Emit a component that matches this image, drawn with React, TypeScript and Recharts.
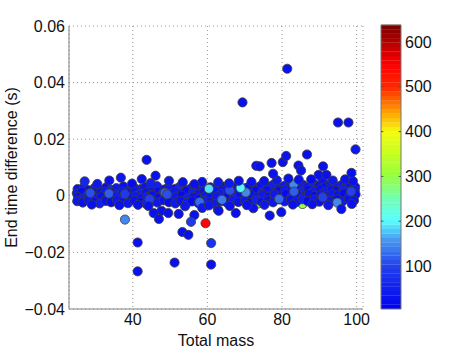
import React from "react"
import {
  ScatterChart,
  Scatter,
  XAxis,
  YAxis,
  CartesianGrid,
  ComposedChart,
  ReferenceArea,
  ReferenceLine,
} from "recharts"

const FONT = '"Liberation Sans", Arial, Helvetica, sans-serif'

const massTicks = [40, 60, 80, 100]
const diffTicks = [-0.04, -0.02, 0, 0.02, 0.04, 0.06]
const colorTicks = [100, 200, 300, 400, 500, 600]
const colorRange = [4, 638]

// [total mass, end time difference, colour value]
type Pt = [number, number, number]

// coloured points mostly buried inside the band
const buriedPoints: Pt[] = [
  [61.8, -0.0014, 470], [93.4, 0.002, 560], [32.0, -0.0017, 190], [49.0, 0.0024, 190],
  [55.2, 0.0003, 260], [78.4, -0.0008, 240], [88.0, 0.0006, 330], [41.2, 0.0002, 170],
  [73.6, -0.0027, 300], [85.5, -0.0029, 300], [60.6, 0.0021, 200], [68.7, 0.0026, 210],
]

const bandTop: Pt[] = [
  [25.2, 0.0024, 25], [26.9, 0.0031, 40], [28.3, 0.0019, 20], [29.8, 0.0028, 45], [31.0, 0.0022, 30],
  [32.9, 0.003, 15], [34.1, 0.0021, 55], [35.6, 0.0027, 35], [37.5, 0.0033, 25], [39.1, 0.002, 50],
  [40.3, 0.0029, 20], [42.2, 0.0024, 35], [43.4, 0.0031, 30], [45.3, 0.0026, 15], [46.5, 0.0034, 45],
  [48.4, 0.0022, 25], [49.6, 0.003, 40], [51.5, 0.0025, 20], [52.7, 0.0033, 55], [54.6, 0.0021, 30],
  [55.8, 0.0028, 35], [57.7, 0.0032, 15], [58.9, 0.0024, 45], [60.8, 0.003, 25], [62.0, 0.0026, 40],
  [63.9, 0.0033, 20], [65.1, 0.0023, 30], [67.0, 0.0031, 45], [68.2, 0.0035, 25], [70.1, 0.0027, 35],
  [71.3, 0.0034, 20], [73.2, 0.0029, 40], [74.4, 0.0036, 30], [76.3, 0.0031, 15], [77.5, 0.0038, 45],
  [79.4, 0.0028, 25], [80.6, 0.0035, 35], [82.5, 0.004, 30], [83.7, 0.0032, 20], [85.6, 0.0039, 40],
  [86.8, 0.003, 25], [88.7, 0.0041, 45], [89.9, 0.0034, 30], [91.8, 0.0038, 20], [93.0, 0.0043, 35],
  [94.9, 0.0033, 25], [96.1, 0.0039, 40], [98.0, 0.0036, 30], [99.6, 0.0031, 20],
]

const bandUpperMid: Pt[] = [
  [25.0, 0.0009, 35], [26.4, 0.0014, 20], [28.0, 0.0006, 45], [29.5, 0.0012, 30], [31.3, 0.0008, 15],
  [32.6, 0.0015, 40], [34.4, 0.001, 25], [35.9, 0.0005, 50], [37.2, 0.0013, 35], [38.8, 0.0009, 20],
  [40.6, 0.0016, 30], [41.9, 0.0007, 45], [43.7, 0.0012, 25], [45.0, 0.0004, 40], [46.8, 0.0014, 20],
  [48.1, 0.001, 55], [49.9, 0.0006, 30], [51.2, 0.0013, 35], [53.0, 0.0008, 25], [54.3, 0.0016, 15],
  [56.1, 0.0011, 45], [57.4, 0.0005, 30], [59.2, 0.0014, 20], [60.5, 0.0009, 40], [62.3, 0.0015, 25],
  [63.6, 0.0007, 35], [65.4, 0.0012, 50], [66.7, 0.0017, 20], [68.5, 0.001, 30], [69.8, 0.0015, 40],
  [71.6, 0.0008, 25], [72.9, 0.0018, 15], [74.7, 0.0013, 45], [76.0, 0.002, 30], [77.8, 0.0011, 35],
  [79.1, 0.0017, 20], [80.9, 0.0022, 40], [82.2, 0.0014, 25], [84.0, 0.0019, 30], [85.3, 0.0012, 45],
  [87.1, 0.0021, 20], [88.4, 0.0016, 35], [90.2, 0.0023, 25], [91.5, 0.0013, 40], [93.3, 0.002, 30],
  [94.6, 0.0017, 15], [96.4, 0.0024, 45], [97.7, 0.0015, 25], [99.5, 0.002, 35],
]

const bandLowerMid: Pt[] = [
  [25.3, -0.0004, 30], [26.7, -0.001, 45], [28.4, 0.0, 20], [29.9, -0.0007, 35], [31.5, -0.0002, 25],
  [33.0, -0.0009, 40], [34.6, -0.0003, 15], [36.1, -0.0008, 30], [37.7, 0.0001, 45], [39.2, -0.0006, 20],
  [40.8, -0.0001, 35], [42.3, -0.0009, 25], [43.9, -0.0004, 50], [45.4, 0.0002, 30], [47.0, -0.0007, 20],
  [48.5, -0.0002, 40], [50.1, -0.001, 25], [51.6, -0.0003, 35], [53.2, 0.0001, 15], [54.7, -0.0008, 45],
  [56.3, -0.0004, 30], [57.8, -0.0011, 20], [59.4, 0.0, 40], [60.9, -0.0006, 25], [62.5, -0.0002, 35],
  [64.0, -0.0009, 30], [65.6, 0.0001, 20], [67.1, -0.0005, 45], [68.7, 0.0003, 25], [70.2, -0.0004, 40],
  [71.8, 0.0002, 30], [73.3, -0.0006, 15], [74.9, 0.0004, 35], [76.4, -0.0003, 25], [78.0, 0.0005, 40],
  [79.5, -0.0002, 30], [81.1, 0.0006, 20], [82.6, -0.0001, 45], [84.2, 0.0004, 25], [85.7, -0.0003, 35],
  [87.3, 0.0007, 30], [88.8, 0.0, 20], [90.4, 0.0005, 40], [91.9, -0.0002, 25], [93.5, 0.0006, 35],
  [95.0, 0.0001, 30], [96.6, 0.0008, 20], [98.1, -0.0001, 45], [99.7, 0.0005, 25],
]

const bandBottom: Pt[] = [
  [25.1, -0.0019, 40], [26.6, -0.0024, 25], [28.2, -0.0016, 35], [29.7, -0.0022, 20], [31.1, -0.0027, 45],
  [32.8, -0.0018, 30], [34.2, -0.0023, 15], [35.7, -0.0015, 40], [37.3, -0.0021, 25], [38.7, -0.0026, 35],
  [40.4, -0.0017, 30], [42.1, -0.0022, 20], [43.5, -0.0028, 45], [45.2, -0.0019, 25], [46.6, -0.0024, 40],
  [48.3, -0.0016, 30], [49.7, -0.0023, 15], [51.4, -0.0027, 35], [52.8, -0.0018, 25], [54.5, -0.0025, 40],
  [55.9, -0.002, 20], [57.6, -0.0026, 30], [59.0, -0.0017, 45], [60.7, -0.0023, 25], [62.1, -0.0028, 35],
  [63.8, -0.0019, 20], [65.2, -0.0024, 30], [66.9, -0.0016, 40], [68.3, -0.0022, 25], [70.0, -0.0018, 35],
  [71.4, -0.0025, 20], [73.1, -0.0014, 45], [74.5, -0.0021, 30], [76.2, -0.0016, 25], [77.6, -0.0023, 40],
  [79.3, -0.0013, 20], [80.7, -0.002, 35], [82.4, -0.0015, 30], [83.8, -0.0022, 25], [85.5, -0.0012, 45],
  [86.9, -0.0019, 20], [88.6, -0.0014, 35], [90.0, -0.0021, 30], [91.7, -0.0011, 25], [93.1, -0.0018, 40],
  [94.8, -0.0013, 20], [96.2, -0.002, 35], [97.9, -0.0012, 30], [99.3, -0.0017, 25],
]

// lighter points that show on top of the band
const bandLight: Pt[] = [
  [28.6, 0.001, 110], [33.6, 0.0008, 120], [48.6, 0.0011, 120], [49.2, 0.0005, 110], [57.9, -0.0022, 130],
  [63.9, -0.0014, 140], [70.3, 0.0012, 150], [68.9, 0.0028, 200], [83.1, 0.0041, 150], [83.2, 0.0015, 120],
  [79.2, -0.0011, 130], [94.8, -0.0024, 150], [98.5, 0.0015, 100], [37.9, 0.0006, 90], [44.5, -0.0012, 100],
  [66.0, 0.0019, 110], [90.9, -0.0005, 95], [60.4, 0.0025, 190],
]

const nearAbove: Pt[] = [
  [27.1, 0.0051, 60], [33.7, 0.0054, 25], [36.8, 0.0064, 35], [42.4, 0.0059, 30], [46.1, 0.0071, 25],
  [49.7, 0.0053, 40], [53.4, 0.0048, 30], [58.6, 0.0049, 25], [62.9, 0.0048, 35], [68.4, 0.0053, 30],
  [30.5, 0.0042, 35], [39.8, 0.0043, 20], [44.8, 0.0045, 45], [56.5, 0.0041, 25], [65.8, 0.0044, 40],
  [71.8, 0.0049, 30], [75.2, 0.0052, 25], [78.6, 0.0055, 35], [84.5, 0.0057, 30], [87.8, 0.0058, 20],
  [90.8, 0.006, 25], [93.6, 0.0054, 40], [96.9, 0.0058, 30], [99.0, 0.0052, 25], [81.7, 0.0061, 30],
]

const nearBelow: Pt[] = [
  [29.0, -0.0031, 30], [36.4, -0.0033, 25], [41.4, -0.0032, 30], [44.2, -0.0036, 25], [47.7, -0.0053, 30],
  [45.6, -0.0061, 25], [49.5, -0.0061, 30], [52.3, -0.0064, 25], [56.5, -0.0068, 30], [58.6, -0.0043, 35],
  [62.8, -0.0049, 25], [63.0, -0.0053, 30], [67.6, -0.0061, 25], [72.3, -0.0044, 30], [76.7, -0.007, 25],
  [79.8, -0.0058, 30], [95.9, -0.0047, 25], [54.0, -0.0037, 35], [60.4, -0.0034, 40], [66.0, -0.0036, 30],
  [70.6, -0.0033, 25], [75.3, -0.0032, 35], [82.9, -0.0031, 30], [88.1, -0.003, 25], [92.4, -0.0033, 40],
  [98.7, -0.0029, 30],
]

const outliersAbove: Pt[] = [
  [81.4, 0.0449, 25], [69.4, 0.033, 30], [95.0, 0.0259, 25], [97.8, 0.0259, 30], [99.7, 0.0164, 35],
  [43.7, 0.0127, 30], [73.1, 0.0106, 25], [74.0, 0.0104, 30], [77.2, 0.0116, 25], [77.6, 0.0078, 30],
  [80.2, 0.0119, 25], [81.1, 0.0141, 30], [84.4, 0.0107, 25], [85.1, 0.0089, 30], [86.7, 0.0146, 25],
  [91.0, 0.0104, 30], [89.8, 0.0074, 25], [91.9, 0.0074, 30], [98.6, 0.0081, 25],
]

const outliersBelow: Pt[] = [
  [37.9, -0.0084, 150], [59.5, -0.0097, 540], [47.0, -0.0082, 30], [55.6, -0.0092, 90],
  [53.3, -0.0128, 30], [54.9, -0.0138, 25], [41.3, -0.0165, 30], [61.0, -0.0167, 80],
  [51.2, -0.0236, 30], [61.0, -0.0243, 25], [41.3, -0.0267, 30],
]

const points = [
  ...buriedPoints, ...bandTop, ...bandUpperMid, ...bandLowerMid, ...bandBottom,
  ...bandLight, ...nearAbove, ...nearBelow, ...outliersAbove, ...outliersBelow,
].map(([mass, diff, value]) => ({ mass, diff, value }))

// jet-like colormap stops: [t, r, g, b]
const cmap = [
  [0, 0, 0, 240], [0.15, 35, 65, 235], [0.24, 70, 150, 240], [0.31, 90, 255, 255],
  [0.38, 110, 255, 190], [0.47, 150, 255, 60], [0.55, 200, 255, 30], [0.625, 245, 250, 15],
  [0.7, 255, 150, 0], [0.78, 255, 40, 0], [0.86, 255, 0, 0], [0.94, 180, 0, 0], [1, 120, 0, 0],
]

function colorAt(t: number) {
  t = Math.max(0, Math.min(1, t))
  for (let i = 1; i < cmap.length; i++) {
    if (t <= cmap[i][0]) {
      const a = cmap[i - 1]
      const b = cmap[i]
      const f = (t - a[0]) / (b[0] - a[0])
      const c = [1, 2, 3].map((k) => Math.round(a[k] + (b[k] - a[k]) * f))
      return `rgb(${c[0]},${c[1]},${c[2]})`
    }
  }
  return "rgb(120,0,0)"
}

const LEVELS = 64
function colorFor(v: number) {
  const t = (v - colorRange[0]) / (colorRange[1] - colorRange[0])
  const idx = Math.min(LEVELS - 1, Math.floor(t * LEVELS))
  return colorAt((idx + 0.5) / LEVELS)
}

const bands = Array.from({ length: LEVELS }, (_, i) => {
  const step = (colorRange[1] - colorRange[0]) / LEVELS
  return {
    y1: colorRange[0] + i * step,
    y2: colorRange[0] + (i + 1) * step,
    fill: colorAt((i + 0.5) / LEVELS),
  }
})

const fmtDiff = (v: number) =>
  v === 0 ? "0" : (v < 0 ? "\u2212" : "") + Math.abs(v).toFixed(2)

const tickStyle = { fill: "#111", fontSize: 16, fontFamily: FONT }

function Dot(props: any) {
  const { cx, cy, payload } = props
  if (cx == null || cy == null) return null
  return (
    <circle
      cx={cx}
      cy={cy}
      r={4.6}
      fill={colorFor(payload.value)}
      stroke="#3c3c3c"
      strokeWidth={0.8}
    />
  )
}

export default function App() {
  return (
    <div
      style={{
        position: "absolute",
        left: 0,
        top: 0,
        width: 463,
        height: 349,
        background: "#fff",
        fontFamily: FONT,
      }}
    >
      <div style={{ position: "absolute", left: 0, top: 0 }}>
        <ScatterChart
          width={463}
          height={349}
          margin={{ top: 26, right: 100, bottom: 0, left: 0 }}
        >
          <CartesianGrid stroke="#999" strokeDasharray="1 3" />
          <XAxis
            type="number"
            dataKey="mass"
            domain={[22.9, 101.7]}
            ticks={massTicks}
            allowDataOverflow
            height={40}
            tickLine={false}
            tickSize={0}
            tickMargin={5}
            axisLine={{ stroke: "#808080" }}
            tick={tickStyle}
            label={{
              value: "Total mass",
              position: "insideBottom",
              offset: 3,
              style: { fill: "#111", fontSize: 16, fontFamily: FONT },
            }}
          />
          <YAxis
            type="number"
            dataKey="diff"
            domain={[-0.04, 0.06]}
            ticks={diffTicks}
            allowDataOverflow
            width={69}
            tickLine={false}
            tickSize={0}
            tickMargin={4}
            tickFormatter={fmtDiff}
            axisLine={{ stroke: "#808080" }}
            tick={tickStyle}
            label={{
              value: "End time difference (s)",
              angle: -90,
              position: "center",
              dx: -23,
              style: { fill: "#111", fontSize: 16, fontFamily: FONT, textAnchor: "middle" },
            }}
          />
          <Scatter data={points} shape={<Dot />} isAnimationActive={false} />
        </ScatterChart>
      </div>
      <div style={{ position: "absolute", left: 370, top: 0 }}>
        <ComposedChart
          width={93}
          height={349}
          data={[{ x: 0 }, { x: 1 }]}
          margin={{ top: 25, right: 0, bottom: 40, left: 11 }}
        >
          <XAxis type="number" dataKey="x" domain={[0, 1]} hide />
          <YAxis
            orientation="right"
            type="number"
            domain={colorRange}
            ticks={colorTicks}
            allowDataOverflow
            width={62}
            axisLine={false}
            tickLine={false}
            tickSize={0}
            tickMargin={4}
            tick={tickStyle}
          />
          {bands.map((b, i) => (
            <ReferenceArea
              key={i}
              x1={0}
              x2={1}
              y1={b.y1}
              y2={b.y2 + 0.5}
              fill={b.fill}
              fillOpacity={1}
              stroke="none"
              ifOverflow="visible"
            />
          ))}
          {colorTicks.map((t) => (
            <ReferenceLine
              key={"l" + t}
              segment={[{ x: 0, y: t }, { x: 0.12, y: t }]}
              stroke="#555"
              strokeWidth={1}
            />
          ))}
          {colorTicks.map((t) => (
            <ReferenceLine
              key={"r" + t}
              segment={[{ x: 0.88, y: t }, { x: 1, y: t }]}
              stroke="#555"
              strokeWidth={1}
            />
          ))}
          <ReferenceArea
            x1={0}
            x2={1}
            y1={colorRange[0]}
            y2={colorRange[1]}
            fill="none"
            stroke="#777"
            strokeWidth={1}
            ifOverflow="visible"
          />
        </ComposedChart>
      </div>
    </div>
  )
}
